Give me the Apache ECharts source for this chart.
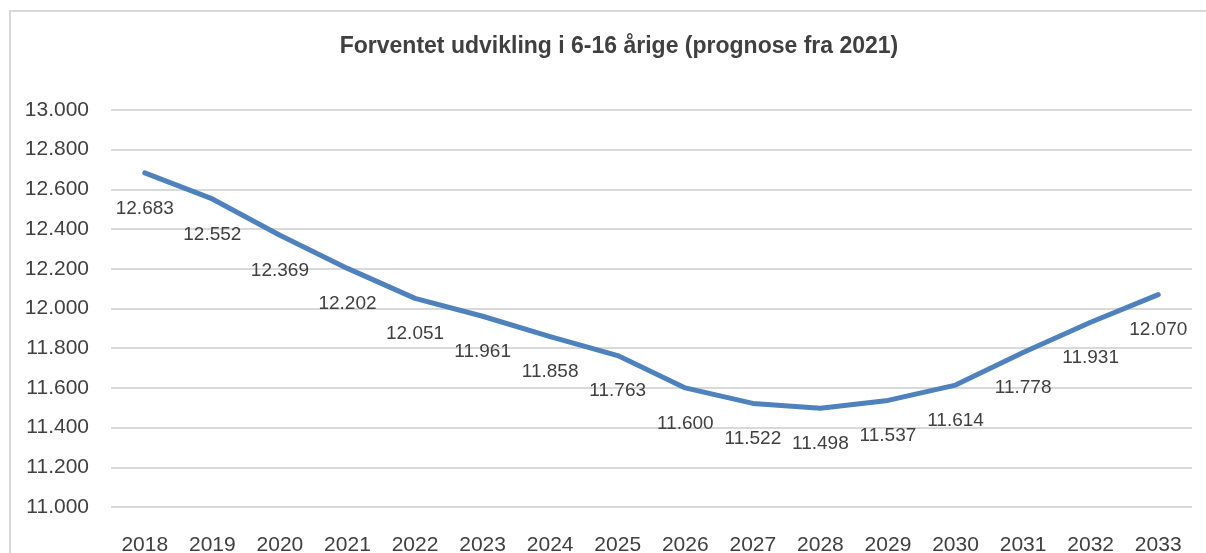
<!DOCTYPE html>
<html>
<head>
<meta charset="utf-8">
<script src="https://cdn.jsdelivr.net/npm/echarts@6/dist/echarts.min.js"></script>
<style>
html,body{margin:0;padding:0;background:#fff;}
#chart{width:1206px;height:553px;}
</style>
</head>
<body>
<div id="chart"></div>
<script>
const titleText = 'Forventet udvikling i 6-16 årige (prognose fra 2021)';
const years = ['2018','2019','2020','2021','2022','2023','2024','2025','2026','2027','2028','2029','2030','2031','2032','2033'];
const values = [12683, 12552, 12369, 12202, 12051, 11961, 11858, 11763, 11600, 11522, 11498, 11537, 11614, 11778, 11931, 12070];
const yMin = 11000, yMax = 13000, yStep = 200;

const fmt = v => (v / 1000).toFixed(3);
const chart = echarts.init(document.getElementById('chart'));
chart.setOption({
  animation: false,
  backgroundColor: '#fff',
  textStyle: { fontFamily: 'Liberation Sans' },
  graphic: [{
    type: 'rect', silent: true,
    shape: { x: 10, y: 11, width: 1400, height: 700 },
    style: { fill: 'none', stroke: '#d9d9d9', lineWidth: 2 }
  }],
  title: {
    text: titleText, left: 614, textAlign: 'center', top: 30,
    textStyle: { fontFamily: 'Liberation Sans', fontWeight: 'bold', fontSize: 23, color: '#404040' }
  },
  grid: { left: 111, right: 14, top: 110, bottom: 46, containLabel: false, outerBoundsMode: 'none' },
  xAxis: {
    type: 'category', data: years, boundaryGap: true,
    axisLine: { show: false }, axisTick: { show: false },
    axisLabel: { fontSize: 21, color: '#404040', margin: 28 }
  },
  yAxis: {
    type: 'value', min: yMin, max: yMax, interval: yStep,
    axisLine: { show: false }, axisTick: { show: false },
    axisLabel: { fontSize: 21, color: '#404040', margin: 22, formatter: fmt },
    splitLine: { lineStyle: { color: '#d9d9d9', width: 2 } }
  },
  series: [{
    type: 'line', data: values, symbol: 'circle', symbolSize: 0, showSymbol: true,
    lineStyle: { color: '#4f81bd', width: 5, cap: 'round', join: 'round' },
    itemStyle: { color: '#4f81bd' },
    label: { show: true, position: 'bottom', distance: 26, fontSize: 19, color: '#404040', formatter: p => fmt(p.value) },
    labelLayout: { hideOverlap: false }
  }]
});
</script>
</body>
</html>
